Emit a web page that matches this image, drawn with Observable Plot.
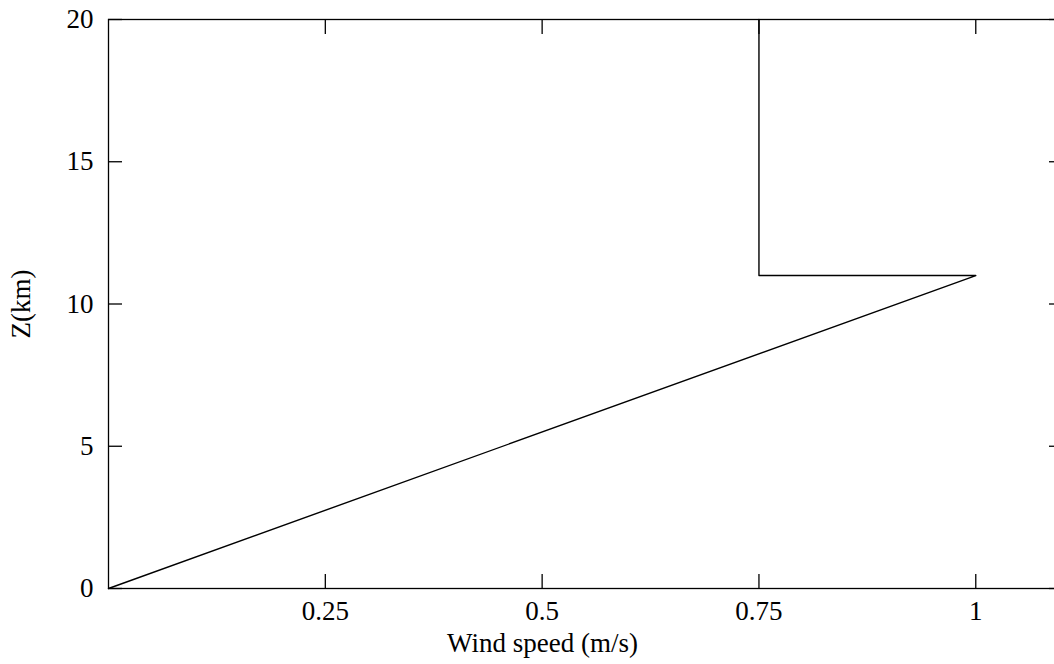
<!DOCTYPE html>
<html>
<head>
<meta charset="utf-8">
<script src="https://cdn.jsdelivr.net/npm/d3@7"></script>
<script src="https://cdn.jsdelivr.net/npm/@observablehq/plot@0.6"></script>
<style>
  html, body { margin: 0; padding: 0; background: #fff; overflow: hidden; }
  #chart svg { display: block; max-width: none !important; font-family: "Liberation Serif", "Times New Roman", serif !important; font-size: 27px !important; }
  #chart svg text { font-family: "Liberation Serif", "Times New Roman", serif !important; }
</style>
</head>
<body>
<div id="chart"></div>
<script>
const windSpeed = [0, 1, 0.75, 0.75];
const heightKm = [0, 11, 11, 20];
const xTicks = [0.25, 0.5, 0.75, 1];
const xTickLabels = ["0.25", "0.5", "0.75", "1"];
const yTicks = [0, 5, 10, 15, 20];
const xTitle = "Wind speed (m/s)";
const yTitle = "Z(km)";

const profile = windSpeed.map((w, i) => ({w, z: heightKm[i]}));

const chart = Plot.plot({
  width: 1070,
  height: 664,
  marginLeft: 108,
  marginRight: 8,
  marginTop: 19,
  marginBottom: 76,
  style: {fontFamily: "Liberation Serif", fontSize: "27px", color: "#000", background: "#fff", maxWidth: "none"},
  x: {domain: [0, 1.1]},
  y: {domain: [0, 20]},
  marks: [
    Plot.frame({stroke: "#000", strokeWidth: 1.3}),
    Plot.axisX(xTicks, {anchor: "bottom", tickSize: -14, tickPadding: 26, tickFormat: (d, i) => xTickLabels[i], strokeWidth: 1.3, label: null, fill: "#000"}),
    Plot.axisX(xTicks, {anchor: "top", tickSize: -14, text: null, strokeWidth: 1.3, label: null}),
    Plot.axisY(yTicks, {anchor: "left", tickSize: -14, tickPadding: 29, strokeWidth: 1.3, label: yTitle, labelAnchor: "center", labelArrow: "none", labelOffset: 98, fill: "#000"}),
    Plot.axisY(yTicks, {anchor: "right", tickSize: -14, text: null, strokeWidth: 1.3, label: null}),
    Plot.text([xTitle], {text: d => d, frameAnchor: "bottom", lineAnchor: "middle", dx: -43, dy: 55, fill: "#000"}),
    Plot.line(profile, {x: "w", y: "z", stroke: "#000", strokeWidth: 1.4})
  ]
});
document.getElementById("chart").appendChild(chart);
</script>
</body>
</html>
